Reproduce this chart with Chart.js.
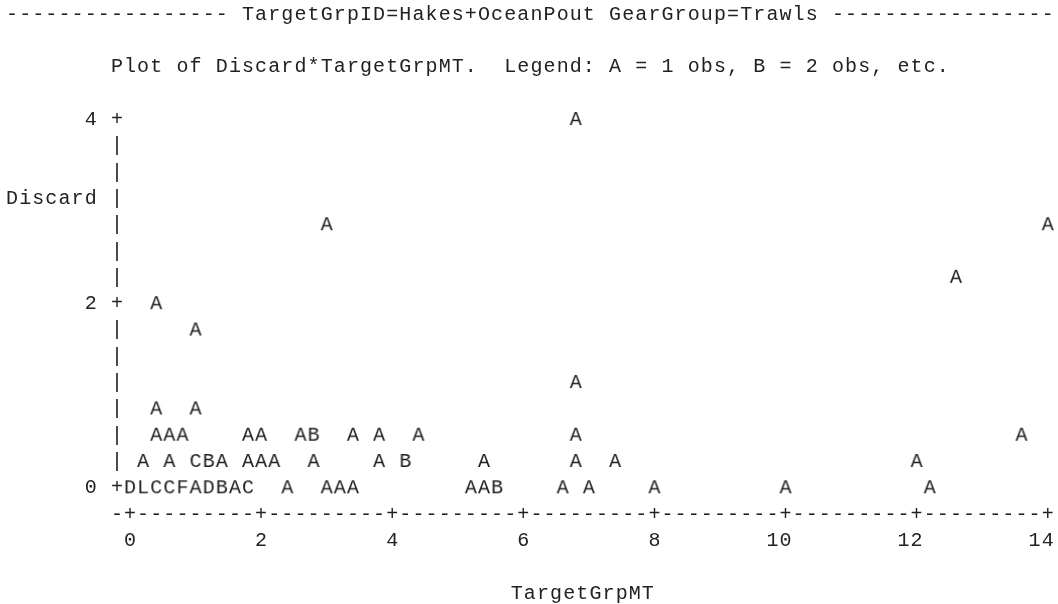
<!DOCTYPE html>
<html>
<head>
<meta charset="utf-8">
<title>Discard by TargetGrpMT</title>
<script src="https://cdn.jsdelivr.net/npm/chart.js@4.4.1/dist/chart.umd.min.js"></script>
<style>
  html, body { margin: 0; padding: 0; background: #fff; }
</style>
</head>
<body>
<canvas id="plot" width="1058" height="604"></canvas>
<script>
// Line-printer style plot. Each letter sits in one text cell: A = 1 obs, B = 2 obs, ...
// One column = 0.2 units of TargetGrpMT, one row = 2/7 units of Discard.
const targetGrpMT = [
  6.8,
  3.0, 14.0,
  12.6,
  0.4,
  1.0,
  6.8,
  0.4, 1.0,
  0.4, 0.6, 0.8, 1.8, 2.0, 2.6, 2.8, 3.4, 3.8, 4.4, 6.8, 13.6,
  0.2, 0.6, 1.0, 1.2, 1.4, 1.8, 2.0, 2.2, 2.8, 3.8, 4.2, 5.4, 6.8, 7.4, 12.0,
  0.0, 0.2, 0.4, 0.6, 0.8, 1.0, 1.2, 1.4, 1.6, 1.8, 2.4, 3.0, 3.2, 3.4, 5.2, 5.4, 5.6, 6.6, 7.0, 8.0, 10.0, 12.2
];
const discard = [
  4.0,
  2.857, 2.857,
  2.286,
  2.0,
  1.714,
  1.143,
  0.857, 0.857,
  0.571, 0.571, 0.571, 0.571, 0.571, 0.571, 0.571, 0.571, 0.571, 0.571, 0.571, 0.571,
  0.286, 0.286, 0.286, 0.286, 0.286, 0.286, 0.286, 0.286, 0.286, 0.286, 0.286, 0.286, 0.286, 0.286, 0.286,
  0, 0, 0, 0, 0, 0, 0, 0, 0, 0, 0, 0, 0, 0, 0, 0, 0, 0, 0, 0, 0, 0
];
const obsCount = [
  1,
  1, 1,
  1,
  1,
  1,
  1,
  1, 1,
  1, 1, 1, 1, 1, 1, 2, 1, 1, 1, 1, 1,
  1, 1, 3, 2, 1, 1, 1, 1, 1, 1, 2, 1, 1, 1, 1,
  4, 12, 3, 3, 6, 1, 4, 2, 1, 3, 1, 1, 1, 1, 1, 1, 2, 1, 1, 1, 1, 1
];

const xTicks = [0, 2, 4, 6, 8, 10, 12, 14];
const yTicks = [0, 2, 4];
const pageTitle = 'TargetGrpID=Hakes+OceanPout GearGroup=Trawls';
const plotNote = 'Plot of Discard*TargetGrpMT.  Legend: A = 1 obs, B = 2 obs, etc.';
const xTitle = 'TargetGrpMT';
const yTitle = 'Discard';

const COL = 0.2;      // x units per text column
const ROW = 2 / 7;    // y units per text row
const PAGE_COLS = 80;
const FONT = '20px "Liberation Mono", "DejaVu Sans Mono", monospace';
const INK = '#222';
const BASE = 7;       // baseline offset below the cell centre

const letterCache = {};
function letterImage(n) {
  if (letterCache[n]) return letterCache[n];
  const c = document.createElement('canvas');
  c.width = 16;
  c.height = 26;
  const g = c.getContext('2d');
  g.font = FONT;
  g.fillStyle = INK;
  g.textAlign = 'center';
  g.textBaseline = 'alphabetic';
  g.fillText(String.fromCharCode(64 + n), 8, 13 + BASE);
  letterCache[n] = c;
  return c;
}

// axes, tick labels and titles drawn as printer characters on the chart's own scales
const lineprinter = {
  id: 'lineprinter',
  afterDraw(chart) {
    const ctx = chart.ctx;
    const xs = chart.scales.x;
    const ys = chart.scales.y;
    const colW = xs.getPixelForValue(COL) - xs.getPixelForValue(0);
    const rowH = ys.getPixelForValue(0) - ys.getPixelForValue(ROW);
    const colX = c => xs.getPixelForValue((c - 9) * COL);   // page column -> pixel
    const rowY = r => ys.getPixelForValue(4 - r * ROW);     // r = 0 on the "4" line

    ctx.save();
    ctx.font = FONT;
    ctx.fillStyle = INK;
    ctx.textAlign = 'center';
    ctx.textBaseline = 'alphabetic';

    const put = (str, x0, y) => {
      for (let i = 0; i < str.length; i++) {
        if (str[i] !== ' ') ctx.fillText(str[i], x0 + i * colW, y + BASE);
      }
    };

    // page header, centred on the 80 column page
    const dashes = '-'.repeat((PAGE_COLS - pageTitle.length - 2) / 2);
    const header = dashes + ' ' + pageTitle + ' ' + dashes;
    put(header, colX(Math.floor((PAGE_COLS - header.length) / 2)), rowY(-4));
    put(plotNote, colX(Math.floor((PAGE_COLS - plotNote.length) / 2)), rowY(-2));

    // vertical axis
    const axisX = xs.getPixelForValue(xs.min);
    const nRows = Math.round((ys.max - 0) / ROW);
    for (let r = 0; r <= nRows; r++) {
      const v = 4 - r * ROW;
      const isTick = yTicks.some(t => Math.abs(t - v) < 1e-6);
      put(isTick ? '+' : '|', axisX, rowY(r));
    }
    yTicks.forEach(t => {
      const s = String(t);
      put(s, axisX - (s.length + 1) * colW, ys.getPixelForValue(t));
    });
    put(yTitle, colX(0), rowY(3));

    // horizontal axis
    const axisY = ys.getPixelForValue(ys.min);
    const nCols = Math.round((xs.max - xs.min) / COL);
    for (let c = 0; c <= nCols; c++) {
      const v = xs.min + c * COL;
      const isTick = xTicks.some(t => Math.abs(t - v) < 1e-6);
      put(isTick ? '+' : '-', xs.getPixelForValue(v), axisY);
    }
    xTicks.forEach(t => {
      const s = String(t);
      put(s, xs.getPixelForValue(t) - (s.length - 1) * colW, axisY + rowH);
    });
    const mid = (chart.chartArea.left + chart.chartArea.right) / 2;
    put(xTitle, mid - (xTitle.length - 1) / 2 * colW, axisY + 3 * rowH);

    ctx.restore();
  }
};

const points = targetGrpMT.map((x, i) => ({ x: x, y: discard[i] }));

new Chart(document.getElementById('plot').getContext('2d'), {
  type: 'scatter',
  data: {
    datasets: [{
      label: 'Discard*TargetGrpMT',
      data: points,
      pointStyle: ctx => letterImage(obsCount[ctx.dataIndex] || 1),
      pointRadius: 6,
      clip: false
    }]
  },
  options: {
    responsive: false,
    animation: false,
    events: [],
    layout: {
      padding: { left: 116.9, right: 10.3, top: 118, bottom: 91.4 }
    },
    scales: {
      x: { type: 'linear', min: -COL, max: 14, display: false },
      y: { type: 'linear', min: -ROW, max: 4, display: false }
    },
    plugins: {
      legend: { display: false },
      tooltip: { enabled: false }
    }
  },
  plugins: [lineprinter]
});
</script>
</body>
</html>
